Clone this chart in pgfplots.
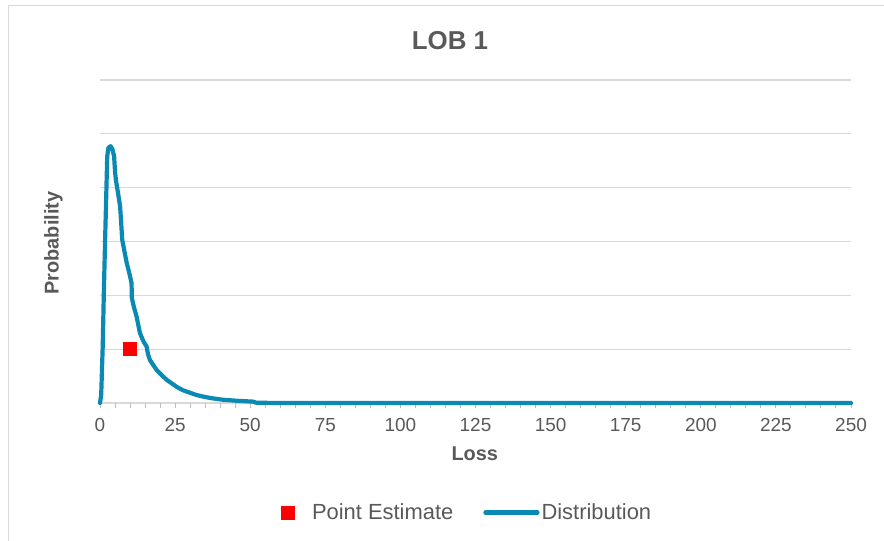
\documentclass[border=0pt]{standalone}
\usepackage{pgfplots}
\pgfplotsset{compat=1.18}
\usepackage{fontspec}
\setmainfont{Liberation Sans}

\definecolor{distblue}{HTML}{0A89B3}
\definecolor{txtgrey}{HTML}{595959}
\definecolor{gridgrey}{HTML}{D9D9D9}
\definecolor{tickgrey}{HTML}{BFBFBF}

\pgfplotsset{
  longline legend/.style={
    legend image code/.code={\draw[##1] (0bp,0bp) -- (52bp,0bp);}
  },
  square legend/.style={
    legend image code/.code={\draw[##1] plot coordinates {(0bp,0bp)}; \path (22bp,0bp);}
  }
}

\begin{document}
\begin{tikzpicture}[x=1bp,y=1bp]
\begin{axis}[
  at={(100bp,138bp)}, anchor=south west,
  width=751bp, height=323bp, scale only axis,
  xmin=0, xmax=250, ymin=0, ymax=6,
  clip=false,
  axis line style={draw=none},
  xtick={0,25,...,250}, minor x tick num=4,
  ytick={0,...,6}, yticklabels={},
  ymajorgrids,
  major grid style={gridgrey, line width=1.2bp},
  xtick pos=bottom, tick align=outside,
  major tick length=5bp, minor tick length=5bp,
  x tick style={tickgrey, line width=1bp},
  y tick style={draw=none},
  /pgf/number format/assume math mode=true,
  ticklabel style={font=\fontsize{19}{21}\selectfont, text=txtgrey},
  xticklabel style={yshift=-7bp},
  title={LOB 1},
  title style={font=\bfseries\fontsize{26}{30}\selectfont, text=txtgrey,
    at={(axis description cs:0.466,1.104)}, anchor=center},
  xlabel={Loss},
  xlabel style={font=\bfseries\fontsize{20}{24}\selectfont, text=txtgrey,
    at={(axis description cs:0.499,-0.158)}, anchor=center},
  ylabel={Probability},
  ylabel style={font=\bfseries\fontsize{20}{24}\selectfont, text=txtgrey,
    at={(axis description cs:-0.062,0.495)}, anchor=center},
  legend style={at={(axis description cs:0.489,-0.339)}, anchor=center,
    draw=none, fill=none, legend columns=2,
    font=\fontsize{22}{25}\selectfont, text=txtgrey,
    /tikz/every even column/.append style={column sep=28bp}},
]
\addplot[only marks, mark=square*, mark size=6.5bp, draw=red, fill=red,
  square legend]
  coordinates {(10,1)};
\addlegendentry{Point Estimate}

\addplot[distblue, line width=4.2bp, line join=round, line cap=round, no marks,
  longline legend]
  coordinates {
  (0,0) (0.4,0.15) (0.9,1.05) (1.3,2.1) (1.7,3.03) (2.1,3.9) (2.4,4.58)
  (2.8,4.74) (3.5,4.77) (4.1,4.72) (4.7,4.58) (5.0,4.3) (5.3,4.14)
  (6.0,3.9) (6.7,3.65) (7.1,3.3) (7.4,3.03) (8.2,2.8) (8.9,2.6)
  (9.8,2.4) (10.5,2.23) (10.6,1.95) (11.3,1.78) (12.2,1.6) (13.0,1.38)
  (13.3,1.3) (14.4,1.15) (15.5,1.05) (16.0,0.9) (16.6,0.8) (17.8,0.7)
  (18.9,0.61) (20.5,0.52) (22.2,0.43) (24.0,0.36) (25.5,0.30) (27.5,0.24)
  (30,0.19) (32,0.15) (34.3,0.12) (37,0.09) (41,0.06) (46,0.04)
  (51,0.025) (52,0.005) (60,0) (100,0) (150,0) (200,0) (250,0)
  };
\addlegendentry{Distribution}
\end{axis}
\draw[gridgrey, line width=1.5bp] (8.5,-20) -- (8.5,535.5) -- (900,535.5);
\pgfresetboundingbox
\useasboundingbox (0,0) rectangle (884,541);
\end{tikzpicture}
\end{document}
